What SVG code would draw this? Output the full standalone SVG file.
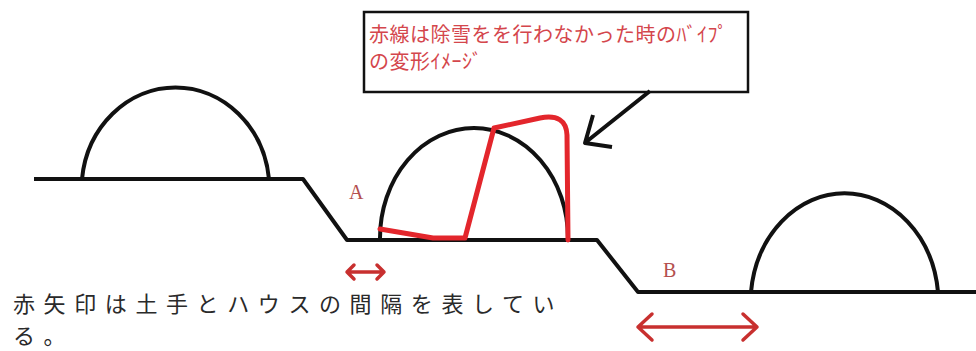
<svg xmlns="http://www.w3.org/2000/svg" width="976" height="351" viewBox="0 0 976 351">
  <style>
    .ink { fill: none; stroke: #111; stroke-width: 4; stroke-linejoin: round; stroke-linecap: butt; }
    .pipe { fill: none; stroke: #e3262c; stroke-width: 5; stroke-linejoin: round; stroke-linecap: round; }
    .gap { fill: none; stroke: #c8302f; stroke-width: 3.5; stroke-linecap: round; stroke-linejoin: round; }
    .note { font-family: "Noto Sans CJK JP", "Noto Sans", sans-serif; font-size: 20px; fill: #d4464c; letter-spacing: 0.5px; }
    .caption { font-family: "Noto Sans CJK JP", "Noto Sans", sans-serif; font-size: 22px; fill: #2a2a2a; letter-spacing: 8.6px; }
    .tag { font-family: "Liberation Serif", serif; font-size: 20px; fill: #b4504f; }
  </style>
  <rect width="976" height="351" fill="#fff"/>

  <!-- ground profile: upper bank, slope, middle terrace, slope, lower field -->
  <g id="ground">
    <path class="ink" d="M34,179 L303,179 L347,240 L597,240 L638,292 L976,292"/>
  </g>

  <!-- greenhouses -->
  <g id="house-left">
    <path class="ink" d="M82,179 A94 102 0 0 1 269,179"/>
  </g>
  <g id="house-middle">
    <path class="ink" d="M380,238 A94 110 0 0 1 568,238"/>
  </g>
  <g id="house-right">
    <path class="ink" d="M751,292 A94 110 0 0 1 938,292"/>
  </g>

  <!-- deformed pipe outline -->
  <g id="deformed-pipe">
    <path class="pipe" d="M380,229 L433,238 L465,238 L494,128 L540,118 Q566,113 567,135 L568,240"/>
  </g>

  <!-- note box -->
  <g id="note">
    <rect x="364" y="12" width="384" height="80" fill="#fff" stroke="#111" stroke-width="2.5"/>
    <text class="note" x="369" y="42">赤線は除雪をを行わなかった時のﾊﾞｲﾌﾟ</text>
    <text class="note" x="369" y="69">の変形ｲﾒｰｼﾞ</text>
  </g>

  <!-- labels -->
  <g id="label-a"><text class="tag" x="349" y="199">A</text></g>
  <g id="label-b"><text class="tag" x="663" y="277">B</text></g>

  <!-- connectors: pointer arrow and spacing arrows -->
  <g id="connectors">
    <path class="ink" d="M650,91 L586,142 M593,115 L585,143 L612,147"/>
    <path class="gap" d="M347,272 L384,272 M354,265 L347,272 L354,279 M377,265 L384,272 L377,279"/>
    <path class="gap" d="M638,327 L757,327 M652,314 L638,327 L652,340 M743,314 L757,327 L743,340"/>
  </g>

  <!-- caption -->
  <g id="caption">
    <text class="caption" x="13" y="312">赤矢印は土手とハウスの間隔を表してい</text>
    <text class="caption" x="13" y="344">る。</text>
  </g>
</svg>
